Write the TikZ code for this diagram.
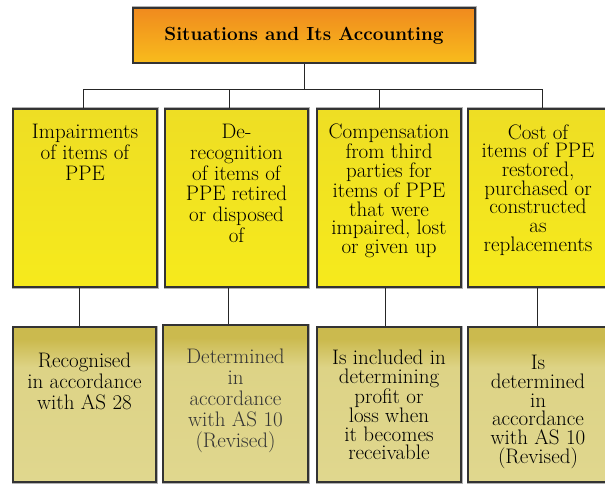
\documentclass[tikz,border=0pt]{standalone}
\usepackage{fontspec}
\usepackage{xcolor}
\usepackage{tikz}
\usetikzlibrary{positioning,calc}

\definecolor{headtop}{HTML}{F08A1E}
\definecolor{headbot}{HTML}{F8BC1C}
\definecolor{sittop}{HTML}{EEDE24}
\definecolor{sitbot}{HTML}{F6EA1C}
\definecolor{acctop}{HTML}{CBBA4E}
\definecolor{accmid}{HTML}{DDD386}
\definecolor{accbot}{HTML}{E0D78E}
\definecolor{rim}{HTML}{333333}

\pgfdeclareverticalshading{accshade}{100bp}{color(0bp)=(accbot); color(25bp)=(accbot);
  color(62bp)=(accmid); color(71bp)=(acctop); color(100bp)=(acctop)}

\begin{document}
\begin{tikzpicture}[x=1pt, y=1pt,
  box/.style={draw=rim, line width=1.8pt, inner sep=0pt,
    preaction={draw=black!30, line width=3pt}},
  headbox/.style={box, top color=headtop, bottom color=headbot,
    minimum width=342pt, minimum height=55pt,
    font=\fontsize{19}{20}\selectfont\bfseries},
  sitbox/.style={box, top color=sittop, bottom color=sitbot,
    minimum width=144pt, minimum height=178pt},
  accbox/.style={box, shading=accshade,
    minimum width=144pt, minimum height=155pt},
  txt/.style={anchor=north, align=center, inner sep=0pt,
    font=\fontsize{21}{20.7}\selectfont},
  tighttxt/.style={txt, font=\fontsize{21}{18.7}\selectfont},
  link/.style={draw=black!85, line width=0.8pt}]

\useasboundingbox (0,0) rectangle (605,483);

% Heading
\node[headbox] (title) at (304,447.5) {Situations and Its Accounting};

% Situations
\node[sitbox] (impair) at (85,285) {};
\node[sitbox, minimum width=143pt] (derecog) at (236.5,285) {};
\node[sitbox] (compens) at (389,285) {};
\node[sitbox, minimum width=140pt] (costrep) at (538,285) {};

% Accounting
\node[accbox, minimum width=143pt] (impacc) at (84.5,78.5) {};
\node[accbox, minimum width=145pt, minimum height=157pt] (derecacc) at (235.5,79.5) {};
\node[accbox] (compacc) at (389,78.5) {};
\node[accbox, minimum width=140pt] (costacc) at (538,78.5) {};

% Texts of the situations
\node[txt, below=16pt of impair.north] (impair-txt) {Impairments\\of items of\\PPE};
\node[txt, below=16pt of derecog.north] (derecog-txt) {De-\\recognition\\of items of\\PPE retired\\or disposed\\of};
\node[tighttxt, below=16pt of compens.north] (compens-txt) {Compensation\\from third\\parties for\\items of PPE\\that were\\impaired, lost\\or given up};
\node[tighttxt, below=16pt of costrep.north] (costrep-txt) {Cost of\\items of PPE\\restored,\\purchased or\\constructed\\as\\replacements};

% Texts of the accounting
\node[txt, below=27pt of impacc.north] (impacc-txt) {Recognised\\in accordance\\with AS 28};
\node[txt, text=black!80, font=\fontsize{21}{21}\selectfont, below=25pt of derecacc.north] (derecacc-txt) {Determined\\in\\accordance\\with AS 10\\(Revised)};
\node[tighttxt, below=24pt of compacc.north] (compacc-txt) {Is included in\\determining\\profit or\\loss when\\it becomes\\receivable};
\node[tighttxt, below=29pt of costacc.north] (costacc-txt) {Is\\determined\\in\\accordance\\with AS 10\\(Revised)};

% Connectors
\draw[link] (title.south) -- ++(0,-25.1);
\draw[link] ($(impair.north)+(-2,0)$) |- ($(costrep.north)+(4,19.1)$) -- ($(costrep.north)+(4,0)$);
\draw[link] ($(derecog.north)+(-7.5,0)$) -- ++(0,19.1);
\draw[link] ($(compens.north)+(-10,0)$) -- ++(0,19.1);

\draw[link] ($(impair.south)+(-6,0)$) -- ($(impacc.north)+(-5.5,0)$);
\draw[link] ($(derecog.south)+(-8.5,0)$) -- ($(derecacc.north)+(-7.5,0)$);
\draw[link] ($(compens.south)+(-4,0)$) -- ($(compacc.north)+(-4,0)$);
\draw[link] ($(costrep.south)+(-1,0)$) -- ($(costacc.north)+(-1,0)$);

\end{tikzpicture}
\end{document}
